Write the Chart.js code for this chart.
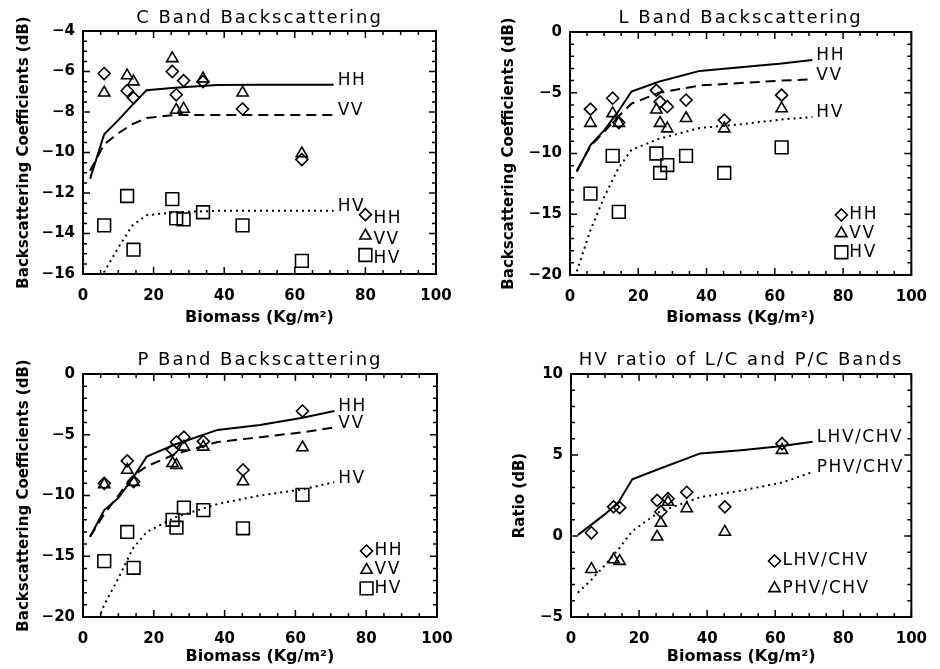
<!DOCTYPE html>
<html lang="en">
<head>
  <meta charset="UTF-8" />
  <title>Backscattering vs Biomass</title>
  <script src="https://cdn.jsdelivr.net/npm/chart.js"></script>
  <style>
    body { margin: 0; background: #fff; }
    .panel { position: absolute; }
  </style>
</head>
<body>
  <canvas id="cBand" class="panel" width="470" height="335" style="left:0;top:0"></canvas>
  <canvas id="lBand" class="panel" width="470" height="335" style="left:470px;top:0"></canvas>
  <canvas id="pBand" class="panel" width="470" height="334" style="left:0;top:335px"></canvas>
  <canvas id="ratio" class="panel" width="470" height="334" style="left:470px;top:335px"></canvas>

  <script>
    // sample biomass (Kg/m2), same stands in every panel
    const biomass = [6, 12.5, 14.3, 25.3, 26.4, 28.5, 34, 45.2, 62];

    // measured backscatter (dB)
    const cHH = [-6.1, -6.95, -7.3, -6.0, -7.15, -6.45, -6.5, -7.85, -10.35];
    const cVV = [-7.05, -6.2, -6.5, -5.35, -7.9, -7.85, -6.35, -7.05, -10.05];
    const cHV = [-13.6, -12.15, -14.8, -12.3, -13.25, -13.3, -12.95, -13.6, -15.35];

    const lHH = [-6.35, -5.45, -7.45, -4.8, -5.75, -6.15, -5.6, -7.25, -5.2];
    const lVV = [-7.5, -6.7, -7.5, -6.4, -7.5, -7.95, -7.1, -7.95, -6.3];
    const lHV = [-13.3, -10.2, -14.8, -10.0, -11.6, -10.95, -10.2, -11.6, -9.5];

    const pHH = [-9.0, -7.15, -8.85, -6.25, -5.6, -5.2, -5.55, -7.9, -3.05];
    const pVV = [-9.1, -7.9, -8.9, -7.35, -7.5, -6.0, -6.0, -8.85, -6.05];
    const pHV = [-15.4, -13.0, -15.95, -12.0, -12.65, -11.0, -11.2, -12.7, -9.95];

    const ratioL = [0.2, 1.8, 1.75, 2.2, 1.5, 2.3, 2.7, 1.8, 5.7];
    const ratioP = [-2.05, -1.45, -1.55, -0.05, 0.8, 2.1, 1.7, 0.25, 5.3];

    // model curves
    const modelX = [2, 6, 10, 14, 18, 26, 38, 50, 62, 71];
    const cHHFit = [-11.3, -9.1, -8.4, -7.65, -6.93, -6.8, -6.67, -6.66, -6.66, -6.66];
    const cVVFit = [-10.9, -9.6, -9.05, -8.6, -8.3, -8.15, -8.15, -8.15, -8.15, -8.15];
    const cHVFit = [-18.5, -15.9, -14.7, -13.6, -13.1, -12.95, -12.88, -12.88, -12.88, -12.88];
    const lHHFit = [-11.5, -9.3, -8.1, -6.6, -4.9, -4.1, -3.2, -2.9, -2.6, -2.3];
    const lVVFit = [-11.4, -9.4, -8.2, -7.0, -5.9, -5.0, -4.4, -4.2, -4.0, -3.9];
    const lHVFit = [-19.7, -16.3, -13.6, -11.3, -9.7, -8.8, -7.9, -7.6, -7.2, -7.0];
    const pHHFit = [-13.4, -11.2, -10.2, -8.6, -6.8, -5.8, -4.6, -4.2, -3.6, -3.05];
    const pVVFit = [-13.4, -11.5, -10.0, -8.4, -7.6, -6.6, -5.6, -5.2, -4.8, -4.4];
    const pHVFit = [-22, -19.0, -16.8, -14.4, -13.0, -11.8, -10.7, -10.0, -9.5, -8.9];
    const ratioLFit = [0.06, 0.7, 1.35, 2.1, 3.5, 4.15, 5.1, 5.3, 5.55, 5.82];
    const ratioPFit = [-3.5, -2.7, -1.8, -0.8, 0.3, 1.5, 2.4, 2.8, 3.3, 3.95];

    const FONT = "'DejaVu Sans', 'Liberation Sans', sans-serif";
    const SOLID = [], DASHED = [10, 6], DOTTED = [2, 4];
    const DIAMOND = { style: 'rectRot', r: 6 };
    const TRIANGLE = { style: 'triangle', r: 6.5 };
    const SQUARE = { style: 'rect', r: 9 };

    const panels = [
      {
        id: 'cBand', title: 'C Band Backscattering', h: 335, titleY: 18,
        area: { left: 83, right: 436, top: 31, bottom: 274 },
        y: { min: -16, max: -4, step: 2, minor: 0.5 },
        yTitle: 'Backscattering Coefficients (dB)', yTitlePad: 15, xTitlePad: 8,
        fits: [['HH', cHHFit, SOLID], ['VV', cVVFit, DASHED], ['HV', cHVFit, DOTTED]],
        samples: [[cHH, DIAMOND], [cVV, TRIANGLE], [cHV, SQUARE]],
        legend: { x: 80, y: [-13.07, -14.11, -15.06], text: ['HH', 'VV', 'HV'], dy: 4 }
      },
      {
        id: 'lBand', title: 'L Band Backscattering', h: 335, titleY: 18,
        area: { left: 100, right: 452, top: 32, bottom: 275 },
        y: { min: -20, max: 0, step: 5, minor: 1 },
        yTitle: 'Backscattering Coefficients (dB)', yTitlePad: 30, xTitlePad: 8,
        fits: [['HH', lHHFit, SOLID], ['VV', lVVFit, DASHED], ['HV', lHVFit, DOTTED]],
        samples: [[lHH, DIAMOND], [lVV, TRIANGLE], [lHV, SQUARE]],
        legend: { x: 79.5, y: [-15.06, -16.57, -18.13], text: ['HH', 'VV', 'HV'], dy: 0 }
      },
      {
        id: 'pBand', title: 'P Band Backscattering', h: 334, titleY: 25,
        area: { left: 83, right: 437, top: 39, bottom: 282 },
        y: { min: -20, max: 0, step: 5, minor: 1 },
        yTitle: 'Backscattering Coefficients (dB)', yTitlePad: 15, xTitlePad: 3,
        fits: [['HH', pHHFit, SOLID], ['VV', pVVFit, DASHED], ['HV', pHVFit, DOTTED]],
        samples: [[pHH, DIAMOND], [pVV, TRIANGLE], [pHV, SQUARE]],
        legend: { x: 80.1, y: [-14.57, -16.13, -17.64], text: ['HH', 'VV', 'HV'], dy: 0 }
      },
      {
        id: 'ratio', title: 'HV ratio of L/C and P/C Bands', h: 334, titleY: 25,
        area: { left: 101, right: 453, top: 39, bottom: 282 },
        y: { min: -5, max: 10, step: 5, minor: 1 },
        yTitle: 'Ratio (dB)', yTitlePad: 41, xTitlePad: 3,
        fits: [['LHV/CHV', ratioLFit, SOLID], ['PHV/CHV', ratioPFit, DOTTED]],
        samples: [[ratioL, DIAMOND], [ratioP, TRIANGLE]],
        legend: { x: 59.8, y: [-1.54, -3.23], text: ['LHV/CHV', 'PHV/CHV'], dy: 0 }
      }
    ];

    function drawMarker(ctx, m, x, y) {
      const r = m.r;
      ctx.beginPath();
      if (m.style === 'rectRot') {
        ctx.moveTo(x, y - r); ctx.lineTo(x + r, y); ctx.lineTo(x, y + r); ctx.lineTo(x - r, y);
      } else if (m.style === 'triangle') {
        const a = Math.PI * 2 / 3;
        ctx.moveTo(x, y - r);
        ctx.lineTo(x + Math.sin(a) * r, y - Math.cos(a) * r);
        ctx.lineTo(x + Math.sin(2 * a) * r, y - Math.cos(2 * a) * r);
      } else {
        const s = r * Math.SQRT1_2;
        ctx.rect(x - s, y - s, 2 * s, 2 * s);
      }
      ctx.closePath();
      ctx.stroke();
    }

    // box, inward ticks on all sides, title, curve labels and legend
    function framePlugin(p) {
      return {
        id: 'frame',
        afterDatasetsDraw(chart) {
          const { ctx, chartArea: a, scales: { x, y } } = chart;
          ctx.save();
          ctx.strokeStyle = '#000';
          ctx.fillStyle = '#000';
          ctx.lineWidth = 1.5;
          ctx.beginPath();
          for (let v = 0; v <= 100.001; v += 5) {
            const px = x.getPixelForValue(v);
            const len = v % 20 === 0 ? 7 : 4;
            ctx.moveTo(px, a.bottom); ctx.lineTo(px, a.bottom - len);
            ctx.moveTo(px, a.top); ctx.lineTo(px, a.top + len);
          }
          for (let v = p.y.min; v <= p.y.max + 0.001; v += p.y.minor) {
            const py = y.getPixelForValue(v);
            const major = Math.abs(v / p.y.step - Math.round(v / p.y.step)) < 0.001;
            const len = major ? 7 : 4;
            ctx.moveTo(a.left, py); ctx.lineTo(a.left + len, py);
            ctx.moveTo(a.right, py); ctx.lineTo(a.right - len, py);
          }
          ctx.stroke();
          ctx.lineWidth = 2;
          ctx.strokeRect(a.left, a.top, a.right - a.left, a.bottom - a.top);

          ctx.letterSpacing = '2px';
          ctx.textBaseline = 'middle';
          ctx.textAlign = 'center';
          ctx.font = '18px ' + FONT;
          ctx.fillText(p.title, (a.left + a.right) / 2, p.titleY);

          ctx.letterSpacing = '1.5px';
          ctx.font = '17px ' + FONT;
          ctx.textAlign = 'left';
          chart.data.datasets.forEach((ds, i) => {
            if (!ds.endLabel) return;
            const pts = chart.getDatasetMeta(i).data;
            const last = pts[pts.length - 1];
            ctx.fillText(ds.label, last.x + 4, last.y - 4);
          });

          ctx.lineWidth = 1.6;
          p.legend.text.forEach((t, i) => {
            const lx = x.getPixelForValue(p.legend.x);
            const ly = y.getPixelForValue(p.legend.y[i]);
            drawMarker(ctx, p.samples[i][1], lx, ly);
            ctx.fillText(t, lx + 8, ly + p.legend.dy);
          });
          ctx.restore();
        }
      };
    }

    const minus = v => String(v).replace('-', '\u2212');

    panels.forEach(p => {
      const lines = p.fits.map(([label, values, dash]) => ({
        type: 'line',
        label,
        endLabel: true,
        data: modelX.map((mx, i) => ({ x: mx, y: values[i] })),
        borderColor: '#000',
        borderWidth: 2,
        borderDash: dash,
        pointRadius: 0,
        fill: false,
        tension: 0
      }));
      const marks = p.samples.map(([values, m]) => ({
        type: 'scatter',
        data: biomass.map((bx, i) => ({ x: bx, y: values[i] })),
        pointStyle: m.style,
        pointRadius: m.r,
        pointBorderWidth: 1.6,
        borderColor: '#000',
        backgroundColor: 'rgba(0,0,0,0)'
      }));

      new Chart(document.getElementById(p.id), {
        type: 'scatter',
        data: { datasets: [...lines, ...marks] },
        options: {
          responsive: false,
          animation: false,
          layout: { padding: { left: 0, right: 470 - p.area.right, top: p.area.top, bottom: 0 } },
          plugins: { legend: { display: false }, tooltip: { enabled: false } },
          scales: {
            x: {
              type: 'linear', min: 0, max: 100,
              grid: { display: false, drawTicks: false },
              border: { display: false },
              ticks: { stepSize: 20, padding: 13, color: '#000', font: { family: FONT, size: 15, weight: 'bold' }, callback: minus },
              title: {
                display: true, text: 'Biomass (Kg/m\u00b2)', color: '#000',
                font: { family: FONT, size: 16, weight: 'bold' },
                padding: { top: 0, bottom: p.xTitlePad }
              },
              afterFit: s => { s.height = p.h - p.area.bottom; }
            },
            y: {
              type: 'linear', min: p.y.min, max: p.y.max,
              grid: { display: false, drawTicks: false },
              border: { display: false },
              ticks: { stepSize: p.y.step, padding: 8, color: '#000', font: { family: FONT, size: 15, weight: 'bold' }, callback: minus },
              title: {
                display: true, text: p.yTitle, color: '#000',
                font: { family: FONT, size: 15, weight: 'bold' },
                padding: { top: p.yTitlePad, bottom: 0 }
              },
              afterFit: s => { s.width = p.area.left; }
            }
          }
        },
        plugins: [framePlugin(p)]
      });
    });
  </script>
</body>
</html>
